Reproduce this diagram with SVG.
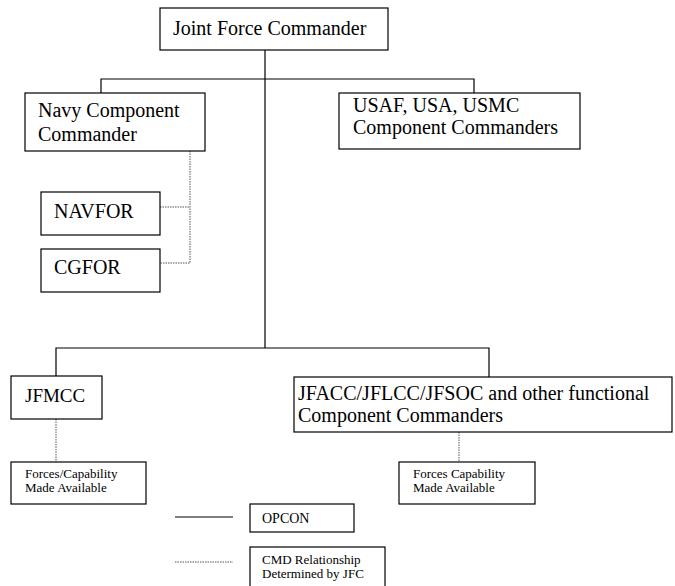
<svg xmlns="http://www.w3.org/2000/svg" width="675" height="586" viewBox="0 0 675 586">
<style>
.box{fill:#fff;stroke:#000;stroke-width:1.2}
.t{font-family:"Liberation Serif","Times New Roman",serif;font-size:20px;fill:#000}
.s{font-family:"Liberation Serif","Times New Roman",serif;font-size:13px;fill:#000}
.solid{fill:none;stroke:#000;stroke-width:1.2}
.dot{fill:none;stroke:#555;stroke-width:1;stroke-dasharray:1.5 1}
</style>
<rect width="675" height="586" fill="#fff"/>
<g id="connectors">
<path class="solid" d="M265 50V348M101 93V79H474V93M56 376V348H489V377"/>
<path class="dot" d="M190 151V263H160M160 207H190M56 419V462M459 432V462"/>
</g>
<g id="jfc"><rect class="box" x="160" y="8" width="228" height="42"/><text class="t" x="173" y="35">Joint Force Commander</text></g>
<g id="navy"><rect class="box" x="25" y="93" width="180" height="58"/><text class="t" x="38" y="117">Navy Component</text><text class="t" x="38" y="141">Commander</text></g>
<g id="usaf"><rect class="box" x="339" y="93" width="241" height="56"/><text class="t" x="353" y="112">USAF, USA, USMC</text><text class="t" x="353" y="134">Component Commanders</text></g>
<g id="navfor"><rect class="box" x="41" y="192" width="119" height="43"/><text class="t" x="54" y="218">NAVFOR</text></g>
<g id="cgfor"><rect class="box" x="41" y="249" width="119" height="43"/><text class="t" x="54" y="274">CGFOR</text></g>
<g id="jfmcc"><rect class="box" x="11" y="376" width="91" height="43"/><text class="t" x="25" y="402" style="font-size:19px">JFMCC</text></g>
<g id="jfacc"><rect class="box" x="294" y="377" width="378" height="55"/><text class="t" x="298" y="400">JFACC/JFLCC/JFSOC and other functional</text><text class="t" x="298" y="422">Component Commanders</text></g>
<g id="forces1"><rect class="box" x="11" y="462" width="135" height="42"/><text class="s" x="25" y="478">Forces/Capability</text><text class="s" x="25" y="492">Made Available</text></g>
<g id="forces2"><rect class="box" x="399" y="462" width="136" height="42"/><text class="s" x="413" y="478">Forces Capability</text><text class="s" x="413" y="492">Made Available</text></g>
<g id="legend">
<line class="solid" x1="175" y1="517" x2="233" y2="517"/>
<line class="dot" x1="175" y1="562" x2="233" y2="562"/>
<rect class="box" x="250" y="504" width="104" height="28"/><text class="s" x="262" y="523" style="font-size:14px">OPCON</text>
<rect class="box" x="250" y="547" width="135" height="45"/><text class="s" x="262" y="564">CMD Relationship</text><text class="s" x="262" y="578">Determined by JFC</text>
</g>
</svg>
